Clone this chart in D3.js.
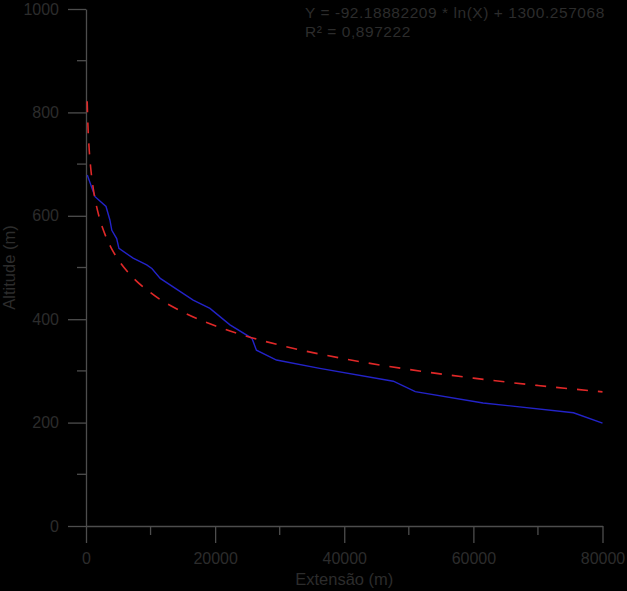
<!DOCTYPE html>
<html>
<head>
<meta charset="utf-8">
<script src="https://cdn.jsdelivr.net/npm/d3@7"></script>
<style>
  html, body { margin: 0; padding: 0; background: #000; }
  svg { display: block; }
  text { font-family: "Liberation Sans", Arial, sans-serif; }
</style>
</head>
<body>
<svg id="chart" width="627" height="591"></svg>
<script>
// Observed profile (Extensão m, Altitude m)
const profileX = [200, 1400, 3100, 3700, 4000, 4750, 5100, 7300, 9400, 10200, 11500, 16600, 19200, 22300, 25700, 26400, 29500, 36200, 47600, 51000, 61500, 75500, 80000];
const profileY = [679, 637, 618, 592, 572, 556, 537, 518, 505, 498, 479, 437, 421, 389, 363, 340, 321, 305, 280, 260, 238, 219, 199];

// Logarithmic fit curve
const fitX = [180, 300, 500, 750, 1000, 1500, 2000, 3000, 4000, 5000, 7000, 10000, 15000, 20000, 25000, 30000, 40000, 50000, 60000, 70000, 80000];
const fitY = [821.5, 774.4, 727.3, 690.0, 663.4, 626.1, 599.5, 562.2, 535.6, 515.1, 484.1, 451.2, 413.8, 387.3, 366.7, 349.9, 323.4, 302.8, 286.0, 271.8, 259.5];

const xMajorTicks = [0, 20000, 40000, 60000, 80000];
const xMinorTicks = [10000, 30000, 50000, 70000];
const yMajorTicks = [0, 200, 400, 600, 800, 1000];
const yMinorTicks = [100, 300, 500, 700, 900];

const equationLines = ["Y = -92.18882209 * ln(X) + 1300.257068", "R\u00B2 = 0,897222"];
const xTitle = "Extensão (m)";
const yTitle = "Altitude (m)";

const svg = d3.select("#chart");
const axisColor = "#4d4d4d";
const textColor = "#2c2c2c";

const x = d3.scaleLinear().domain([0, 80000]).range([86, 602.5]);
const y = d3.scaleLinear().domain([0, 1000]).range([526, 9]);

// Minor ticks
const gMinor = svg.append("g");
gMinor.selectAll("line.xm").data(xMinorTicks).join("line")
  .attr("x1", d => x(d)).attr("x2", d => x(d))
  .attr("y1", y(0)).attr("y2", y(0) + 9)
  .attr("stroke", axisColor).attr("stroke-width", 1.3);
gMinor.selectAll("line.ym").data(yMinorTicks).join("line")
  .attr("y1", d => y(d)).attr("y2", d => y(d))
  .attr("x1", x(0) - 9).attr("x2", x(0))
  .attr("stroke", axisColor).attr("stroke-width", 1.3);

// Axes
const xAxis = d3.axisBottom(x).tickValues(xMajorTicks).tickSize(17).tickSizeOuter(0).tickPadding(10).tickFormat(d3.format("d"));
const yAxis = d3.axisLeft(y).tickValues(yMajorTicks).tickSize(18).tickSizeOuter(0).tickPadding(9).tickFormat(d3.format("d"));

const gx = svg.append("g").attr("transform", `translate(0,${y(0)})`).call(xAxis);
const gy = svg.append("g").attr("transform", `translate(${x(0)},0)`).call(yAxis);
[gx, gy].forEach(g => {
  g.select(".domain").attr("stroke", axisColor).attr("stroke-width", 1.3);
  g.selectAll(".tick line").attr("stroke", axisColor).attr("stroke-width", 1.3);
  g.selectAll(".tick text").attr("fill", textColor)
    .style("font-family", '"Liberation Sans", Arial, sans-serif').style("font-size", "16px");
});

// Lines
const line = d3.line().x(d => x(d[0])).y(d => y(d[1]));
const fitData = fitX.map((v, i) => [v, fitY[i]]);
const profData = profileX.map((v, i) => [v, profileY[i]]);

svg.append("path").datum(profData)
  .attr("d", line.curve(d3.curveLinear))
  .attr("fill", "none").attr("stroke", "#2323c8").attr("stroke-width", 1.4);

svg.append("path").datum(fitData)
  .attr("d", d3.line().x(d => x(d[0])).y(d => y(d[1])).curve(d3.curveMonotoneX))
  .attr("fill", "none").attr("stroke", "#e02828").attr("stroke-width", 1.6)
  .attr("stroke-dasharray", "11,10");

// Equation text
svg.selectAll("text.eq").data(equationLines).join("text")
  .attr("class", "eq")
  .attr("x", 305).attr("y", (d, i) => 18 + i * 18.5)
  .attr("fill", textColor).style("font-size", "15.5px")
  .style("letter-spacing", "0.55px")
  .text(d => d);

// Axis titles
svg.append("text")
  .attr("x", (x(0) + x(80000)) / 2).attr("y", 585)
  .attr("text-anchor", "middle").attr("fill", textColor).style("font-size", "16.5px")
  .text(xTitle);

svg.append("text")
  .attr("transform", `translate(15,${(y(0) + y(1000)) / 2}) rotate(-90)`)
  .attr("text-anchor", "middle").attr("fill", textColor).style("font-size", "16.5px")
  .text(yTitle);
</script>
</body>
</html>
